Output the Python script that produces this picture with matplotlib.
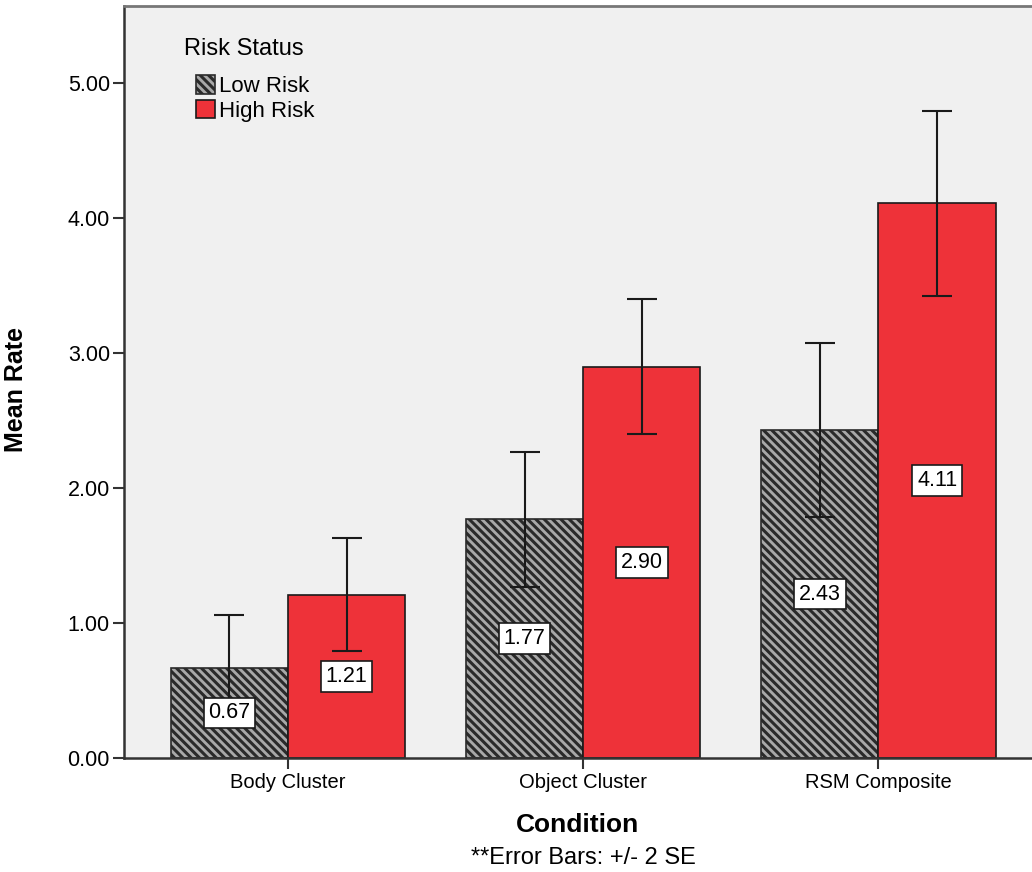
import matplotlib
matplotlib.use('Agg')
import matplotlib.pyplot as plt
from matplotlib.patches import Patch
import numpy as np

# data
conditions = ['Body Cluster', 'Object Cluster', 'RSM Composite']
groups = ['Low Risk', 'High Risk']
low_means = [0.67, 1.77, 2.43]
high_means = [1.21, 2.90, 4.11]
low_err = [0.39, 0.50, 0.645]   # +/- 2 SE
high_err = [0.42, 0.50, 0.685]
yticks = [0, 1, 2, 3, 4, 5]

plt.rcParams['font.family'] = ['Liberation Sans', 'DejaVu Sans']
plt.rcParams['hatch.linewidth'] = 2.2

fig = plt.figure(figsize=(10.32, 8.72), dpi=100)
ax = fig.add_axes([0.120, 0.1307, 0.88, 0.8623])
ax.set_facecolor('#f0f0f0')

x = np.arange(len(conditions))
w = 0.397
low_col = '#a8a8a8'
high_col = '#ee3239'
hatch = '\\\\\\\\'

b1 = ax.bar(x - w / 2, low_means, w, color=low_col, edgecolor='#2a2a2a',
            hatch=hatch, linewidth=1.2, zorder=2)
b2 = ax.bar(x + w / 2, high_means, w, color=high_col, edgecolor='#1a1a1a',
            linewidth=1.2, zorder=2)

ax.errorbar(x - w / 2, low_means, yerr=low_err, fmt='none', ecolor='#1a1a1a',
            elinewidth=1.5, capsize=10.5, capthick=1.5, zorder=3)
ax.errorbar(x + w / 2, high_means, yerr=high_err, fmt='none', ecolor='#1a1a1a',
            elinewidth=1.5, capsize=10.5, capthick=1.5, zorder=3)

# value labels in white boxes, roughly at mid-height of each bar
box = dict(facecolor='white', edgecolor='#1a1a1a', boxstyle='square,pad=0.22', linewidth=1.2)
for xs, vals in ((x - w / 2, low_means), (x + w / 2, high_means)):
    for xi, v in zip(xs, vals):
        ypos = max(v / 2, 0.15)
        ax.text(xi, ypos, f'{v:.2f}', ha='center', va='center', fontsize=15.5,
                bbox=box, zorder=4)

ax.set_xlim(-0.556, 2.52)
ax.set_ylim(0, 5.57)
ax.set_yticks(yticks)
ax.set_yticklabels([f'{t:.2f}' for t in yticks], fontsize=15.5)
ax.set_xticks(x)
ax.set_xticklabels(conditions, fontsize=14.5)
ax.tick_params(axis='y', length=8, width=1.5, color='#333333', pad=2)
ax.tick_params(axis='x', length=8, width=1.5, color='#333333', pad=3)

for s in ('left', 'bottom'):
    ax.spines[s].set_color('#333333')
    ax.spines[s].set_linewidth(1.8)
ax.spines['top'].set_color('#777777')
ax.spines['top'].set_linewidth(2)
ax.spines['right'].set_visible(False)

ax.set_ylabel('Mean Rate', fontsize=18, fontweight='bold',
              family=['Liberation Sans Narrow', 'Liberation Sans'])
ax.yaxis.set_label_coords(-0.105, 0.49)
ax.set_xlabel('Condition', fontsize=19, fontweight='bold', labelpad=15)
fig.text(0.565, 0.004, '**Error Bars: +/- 2 SE', ha='center', va='bottom', fontsize=17)

# legend: title drawn as its own text so the entries can sit indented below it
ax.text(0.066, 0.943, 'Risk Status', transform=ax.transAxes, ha='left', va='center',
        fontsize=17)
handles = [Patch(facecolor=low_col, edgecolor='#2a2a2a', hatch=hatch, linewidth=1.2),
           Patch(facecolor=high_col, edgecolor='#1a1a1a', linewidth=1.2)]
ax.legend(handles, groups, loc='upper left', bbox_to_anchor=(0.080, 0.908),
          frameon=False, fontsize=16, handlelength=0.85, handleheight=0.9,
          handletextpad=0.15, labelspacing=0.12, borderaxespad=0, borderpad=0)

fig.savefig('out.png', dpi=100)
